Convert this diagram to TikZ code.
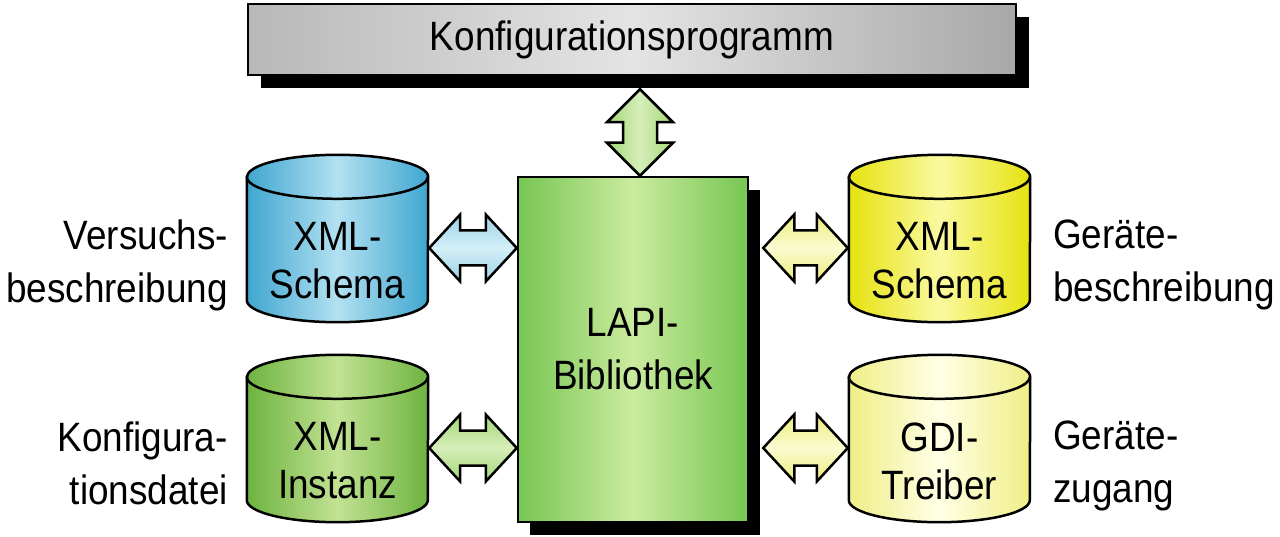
\documentclass[tikz,border=0pt]{standalone}
\usepackage{fontspec}
\setmainfont[FakeStretch=0.9]{Liberation Sans}
\usetikzlibrary{calc,shadows}

\definecolor{blueEdge}{HTML}{3FA6CF}
\definecolor{blueMid}{HTML}{B3E1F2}
\definecolor{gcylEdge}{HTML}{6DB33F}
\definecolor{gcylMid}{HTML}{C2E294}
\definecolor{lapiEdge}{HTML}{77C653}
\definecolor{lapiMid}{HTML}{CBEB9E}
\definecolor{yelEdge}{HTML}{E6E20F}
\definecolor{yelMid}{HTML}{FAF9A0}
\definecolor{lyelEdge}{HTML}{EFEE86}
\definecolor{lyelMid}{HTML}{FFFFE6}
\definecolor{abEdge}{HTML}{9CD2E6}
\definecolor{abMid}{HTML}{D4EFF8}
\definecolor{agEdge}{HTML}{A4D677}
\definecolor{agMid}{HTML}{D6EEBA}
\definecolor{ayEdge}{HTML}{ECEC78}
\definecolor{ayMid}{HTML}{FBFBD2}
\definecolor{grayEdgeL}{HTML}{B8B8B8}
\definecolor{grayMid}{HTML}{E4E4E4}
\definecolor{grayEdgeR}{HTML}{A8A8A8}

\newcommand\cylbody[3]{%
  \path[draw=black, line width=2.5pt, left color=#2, right color=#2, middle color=#3]
    ($(#1.north west)+(0,22)$) -- ($(#1.south west)+(0,-22)$)
    arc[start angle=180, end angle=0, x radius=90.5, y radius=22]
    -- ($(#1.north east)+(0,22)$)
    arc[start angle=0, end angle=-180, x radius=90.5, y radius=22] -- cycle;
  \path[draw=black, line width=2.5pt] ($(#1.north west)+(0,22)$)
    arc[start angle=180, end angle=0, x radius=90.5, y radius=22];
}
\newcommand\harrow[3]{%
  \path[arrowline,#3] (#1) -- ++(31,-33.5) -- ++(0,16) -- ($(#2)+(-31,-17.5)$)
    -- ++(0,-16) -- (#2) -- ++(-31,33.5) -- ++(0,-16) -- ($(#1)+(31,17.5)$)
    -- ++(0,16) -- cycle;
}
\newcommand\varrow[3]{%
  \path[arrowline,#3] (#1) -- ++(-33,33) -- ++(16,0) -- ($(#2)+(-17,-33)$)
    -- ++(-16,0) -- (#2) -- ++(33,-33) -- ++(-16,0) -- ($(#1)+(17,33)$)
    -- ++(16,0) -- cycle;
}

\tikzset{
  txt/.style={font=\fontsize{41}{53}\selectfont, inner sep=0pt},
  cyltext/.style={font=\fontsize{41}{48}\selectfont, inner sep=0pt, align=center},
  cylnode/.style={draw=none, minimum width=181pt, minimum height=167pt, inner sep=0pt},
  arrowline/.style={draw=black, line width=2.5pt, line join=miter},
  blackshadow/.style={general shadow={fill=black, shadow xshift=12pt, shadow yshift=-13pt}},
}

\begin{document}
\begin{tikzpicture}[x=1pt, y=-1pt]
\useasboundingbox (0,0) rectangle (1280,537);

% top box
\node[txt, draw=black, line width=2.5pt, minimum width=768pt, minimum height=71pt,
  left color=grayEdgeL, right color=grayEdgeR, middle color=grayMid,
  general shadow={fill=black, shadow xshift=13pt, shadow yshift=-13pt}]
  (top) at (632,39.5) {Konfigurationsprogramm};

% LAPI box
\node[txt, align=center, draw=black, line width=2.5pt, minimum width=230pt, minimum height=345pt,
  left color=lapiEdge, right color=lapiEdge, middle color=lapiMid, blackshadow]
  (lapi) at (633,349.5) {LAPI-\\Bibliothek};

% cylinders
\node[cylnode] (cylVS) at (337.5,238.5) {};
\node[cylnode] (cylKD) at (337.5,438.5) {};
\node[cylnode] (cylGB) at (939.5,238.5) {};
\node[cylnode] (cylGZ) at (939.5,438.5) {};
\cylbody{cylVS}{blueEdge}{blueMid}
\cylbody{cylKD}{gcylEdge}{gcylMid}
\cylbody{cylGB}{yelEdge}{yelMid}
\cylbody{cylGZ}{lyelEdge}{lyelMid}
\node[cyltext] (tVS) at ($(cylVS)+(0,22.5)$) {XML-\\Schema};
\node[cyltext] (tKD) at ($(cylKD)+(0,22.5)$) {XML-\\Instanz};
\node[cyltext] (tGB) at ($(cylGB)+(0,22.5)$) {XML-\\Schema};
\node[cyltext] (tGZ) at ($(cylGZ)+(0,22.5)$) {GDI-\\Treiber};

% side labels
\node[txt, align=right, anchor=east] (lVS) at (228,265) {Versuchs-\\beschreibung};
\node[txt, align=right, anchor=east] (lKD) at (228,463) {Konfigura-\\tionsdatei};
\node[txt, align=left, anchor=west] (lGB) at (1053,265) {Geräte-\\beschreibung};
\node[txt, align=left, anchor=west] (lGZ) at (1053,466) {Geräte-\\zugang};

% connectors
\coordinate (vT) at ($(top.south)+(8,13)$);
\coordinate (vB) at ($(lapi.north)+(7,0)$);
\varrow{vT}{vB}{left color=agEdge, right color=agEdge, middle color=agMid}

\coordinate (a1L) at ($(cylVS.east |- 0,248)+(1,0)$);
\coordinate (a1R) at (lapi.west |- 0,248);
\harrow{a1L}{a1R}{top color=abEdge, bottom color=abEdge, middle color=abMid}

\coordinate (a2L) at ($(cylKD.east |- 0,448)+(1,0)$);
\coordinate (a2R) at (lapi.west |- 0,448);
\harrow{a2L}{a2R}{top color=agEdge, bottom color=agEdge, middle color=agMid}

\coordinate (a3L) at ($(lapi.east |- 0,248)+(14,0)$);
\coordinate (a3R) at ($(cylGB.west |- 0,248)+(-1,0)$);
\harrow{a3L}{a3R}{top color=ayEdge, bottom color=ayEdge, middle color=ayMid}

\coordinate (a4L) at ($(lapi.east |- 0,448)+(14,0)$);
\coordinate (a4R) at ($(cylGZ.west |- 0,448)+(-1,0)$);
\harrow{a4L}{a4R}{top color=ayEdge, bottom color=ayEdge, middle color=ayMid}
\end{tikzpicture}
\end{document}
